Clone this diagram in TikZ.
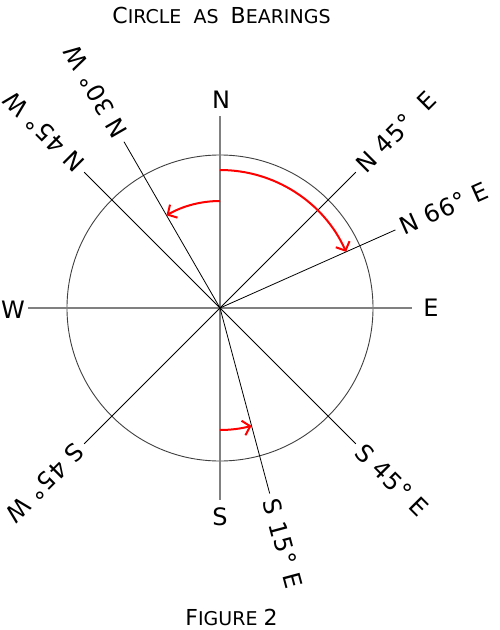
\documentclass[tikz,border=0pt]{standalone}
\usepackage{fontspec}
\setmainfont{DejaVu Sans}
\newfontfamily\cadfont[LetterSpace=3]{DejaVu Sans}
\usetikzlibrary{arrows.meta}

\newcommand{\capbig}[1]{{\fontsize{22}{26}\selectfont #1}}
\newcommand{\capsmall}[1]{{\fontsize{19}{22}\selectfont #1}}

\tikzset{
  axis/.style={draw=gray, line width=1.6pt},
  bearing/.style={draw=black, line width=0.8pt},
  rim/.style={draw=black!75, line width=0.9pt},
  sweep/.style={draw=red, line width=2pt, -{Straight Barb[length=7pt,width=15pt,line width=2pt]}},
  lbl/.style={font=\cadfont\fontsize{24}{28}\selectfont, inner sep=0pt},
  blbl/.style={lbl, anchor=west},
}

\begin{document}
\begin{tikzpicture}[x=1pt, y=1pt]
  \useasboundingbox (-220,-322) rectangle (280,308);

  \coordinate (O) at (0,0);
  \coordinate (n) at (90:192);
  \coordinate (s) at (270:192);
  \coordinate (w) at (180:192);
  \coordinate (e) at (0:192);

  % circle and main axes
  \draw[rim] (O) circle[radius=153];
  \draw[axis] (n) -- (s);
  \draw[axis] (w) -- (e);

  \node[lbl] (nl) at (1,208) {N};
  \node[lbl] (sl) at (0,-209) {S};
  \node[lbl] (wl) at (-207,-2) {W};
  \node[lbl] (el) at (211,0) {E};

  % bearing lines
  \foreach \name/\ang/\txt in {ne/45/{N 45°\ \ E}, nee/24/{N 66° E},
      nw/135/{N 45° W}, nnw/120/{N 30° W}, sw/225/{S 45° W},
      sse/285/{S 15° E}, se/315/{S 45° E}} {
    \coordinate (\name) at (\ang:192);
    \draw[bearing] (O) -- (\name);
    \node[blbl, rotate=\ang] (\name l) at (\ang:198) {\txt};
  }

  % swept angles
  \coordinate (a1) at (90:138);
  \coordinate (a2) at (90:107);
  \coordinate (a3) at (270:122);
  \draw[sweep] (a1) arc[start angle=90, end angle=24, radius=138];
  \draw[sweep] (a2) arc[start angle=90, end angle=120, radius=107];
  \draw[sweep] (a3) arc[start angle=270, end angle=285, radius=122];

  \node (title) at (1.5,293) {\capbig{C}\capsmall{IRCLE\ \ AS\ \ }\capbig{B}\capsmall{EARINGS}};
  \node (caption) at (11.5,-309) {\capbig{F}\capsmall{IGURE\ }\capbig{2}};
\end{tikzpicture}
\end{document}
